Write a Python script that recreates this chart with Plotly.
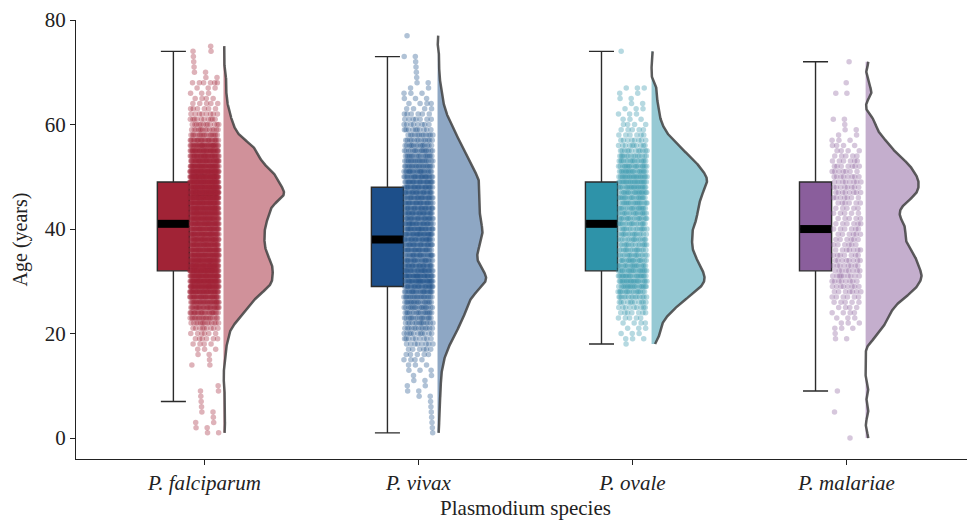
import numpy as np
import plotly.graph_objects as go

species = ["P. falciparum", "P. vivax", "P. ovale", "P. malariae"]
ages = list(range(0, 78))

# number of patients at each age (0..77)
falciparum_counts = [
    0, 2, 2, 2, 1, 2, 1, 1, 1, 2,
    1, 0, 0, 0, 2, 1, 2, 3, 4, 6,
    6, 9, 14, 20, 25, 30, 35, 40, 48, 57,
    62, 58, 62, 60, 57, 54, 51, 50, 50, 50,
    50, 52, 54, 56, 57, 60, 76, 78, 70, 68,
    66, 60, 52, 45, 43, 42, 36, 26, 18, 14,
    12, 10, 8, 6, 5, 4, 3, 3, 6, 2,
    2, 1, 1, 1, 2, 1, 0, 0]
vivax_counts = [
    0, 1, 1, 1, 1, 1, 1, 1, 2, 2,
    2, 2, 2, 3, 3, 4, 5, 6, 8, 9,
    11, 13, 14, 16, 17, 18, 19, 21, 24, 27,
    31, 31, 28, 26, 24, 24, 25, 26, 27, 28,
    28, 27, 26, 26, 26, 26, 26, 26, 26, 26,
    25, 23, 21, 20, 18, 17, 15, 13, 12, 10,
    8, 7, 6, 4, 4, 3, 3, 2, 2, 1,
    1, 1, 1, 2, 0, 0, 0, 1]
ovale_counts = [
    0, 0, 0, 0, 0, 0, 0, 0, 0, 0,
    0, 0, 0, 0, 0, 0, 0, 0, 1, 3,
    3, 3, 4, 5, 7, 9, 11, 14, 16, 19,
    20, 20, 19, 18, 17, 16, 15, 15, 15, 15,
    15, 16, 17, 17, 17, 18, 18, 19, 20, 21,
    21, 19, 18, 16, 14, 12, 10, 8, 6, 5,
    4, 3, 3, 3, 2, 2, 2, 3, 0, 0,
    0, 0, 0, 0, 1, 0, 0, 0]
malariae_counts = [
    1, 0, 0, 0, 0, 1, 0, 0, 0, 1,
    0, 0, 0, 0, 0, 0, 0, 0, 0, 2,
    1, 3, 3, 3, 4, 4, 5, 6, 7, 8,
    8, 9, 8, 8, 8, 7, 7, 6, 6, 6,
    6, 6, 5, 5, 5, 6, 7, 8, 8, 8,
    8, 7, 7, 6, 5, 4, 4, 3, 2, 2,
    1, 2, 0, 0, 0, 0, 2, 0, 1, 0,
    0, 0, 1, 0, 0, 0, 0, 0]

# box statistics
q1 = [32, 29, 32, 32]
medians = [41, 38, 41, 40]
q3 = [49, 48, 49, 49]
whisker_low = [7, 1, 18, 9]
whisker_high = [74, 73, 74, 72]

y_ticks = [0, 20, 40, 60, 80]

colors = ["#A12336", "#1D4F8A", "#2E93A9", "#8A5E9C"]
fills = ["rgba(161,35,54,0.5)", "rgba(29,79,138,0.5)",
         "rgba(46,147,169,0.5)", "rgba(138,94,156,0.5)"]

all_counts = [falciparum_counts, vivax_counts, ovale_counts, malariae_counts]

BOX_OFF = -0.145
BOX_W = 0.15
STRIP_HALF = 0.068
DENS_OFF = 0.089
DENS_SCALE = 7.5
BW = 1.0
GOLD = 0.6180339887

fig = go.Figure()

for i, counts in enumerate(all_counts):
    a = np.array(ages, dtype=float)
    c = np.array(counts, dtype=float)
    n = c.sum()
    present = a[c > 0]
    grid = np.linspace(present.min(), present.max(), 700)
    pdf = (c[None, :] * np.exp(-0.5 * ((grid[:, None] - a[None, :]) / BW) ** 2)).sum(1)
    pdf = pdf / (n * BW * np.sqrt(2 * np.pi))
    base = i + DENS_OFF
    xs = base + pdf * DENS_SCALE
    # filled half-violin
    fig.add_trace(go.Scatter(
        x=np.concatenate([xs, np.full(len(grid), base)]),
        y=np.concatenate([grid, grid[::-1]]),
        fill="toself", fillcolor=fills[i], mode="lines",
        line=dict(width=0), hoverinfo="skip", showlegend=False))
    fig.add_trace(go.Scatter(
        x=xs, y=grid, mode="lines",
        line=dict(color="rgba(65,65,65,0.85)", width=2.5),
        hoverinfo="skip", showlegend=False))

    # jittered raw points
    px, py = [], []
    k = 0
    for age, cnt in zip(ages, counts):
        for j in range(cnt):
            k += 1
            f = (k * GOLD + age * 0.37) % 1.0
            px.append(i + (f * 2 - 1) * STRIP_HALF)
            py.append(age)
    fig.add_trace(go.Scatter(
        x=px, y=py, mode="markers",
        marker=dict(size=5.5, color=colors[i], opacity=0.35, line=dict(width=0)),
        hoverinfo="skip", showlegend=False))

    # box
    fig.add_trace(go.Box(
        x=[i + BOX_OFF], q1=[q1[i]], median=[medians[i]], q3=[q3[i]],
        lowerfence=[whisker_low[i]], upperfence=[whisker_high[i]],
        width=BOX_W, whiskerwidth=0.78, fillcolor=colors[i],
        line=dict(color="#2b2b2b", width=1.4), boxpoints=False,
        hoverinfo="skip", showlegend=False))
    # thick median bar
    fig.add_trace(go.Scatter(
        x=[i + BOX_OFF - BOX_W / 2 + 0.003, i + BOX_OFF + BOX_W / 2 - 0.003],
        y=[medians[i], medians[i]], mode="lines",
        line=dict(color="black", width=8), hoverinfo="skip", showlegend=False))

# the page body adds an 8px offset; margins compensate for it
fig.update_layout(
    width=975, height=525,
    margin=dict(l=68, r=8, t=12, b=74, autoexpand=False),
    plot_bgcolor="white", paper_bgcolor="white",
    font=dict(family="Liberation Serif, Times New Roman, serif", size=21, color="#222"),
    showlegend=False,
    xaxis=dict(
        range=[-0.6, 3.6], tickmode="array", tickvals=[0, 1, 2, 3],
        ticktext=["<i>%s</i>" % s for s in species],
        showline=True, linecolor="#222", linewidth=1.2,
        ticks="outside", ticklen=5, tickcolor="#222",
        showgrid=False, zeroline=False, automargin=False,
        title=dict(text="Plasmodium species", font=dict(size=21), standoff=6),
        tickfont=dict(size=21)),
    yaxis=dict(
        range=[-4, 80], tickmode="array", tickvals=y_ticks,
        showline=True, linecolor="#222", linewidth=1.2,
        ticks="outside", ticklen=5, tickcolor="#222",
        showgrid=False, zeroline=False, automargin=False,
        ticklabeloverflow="allow",
        title=dict(text="Age (years)", font=dict(size=20), standoff=11),
        tickfont=dict(size=21)),
)

fig.write_html("out.html")
